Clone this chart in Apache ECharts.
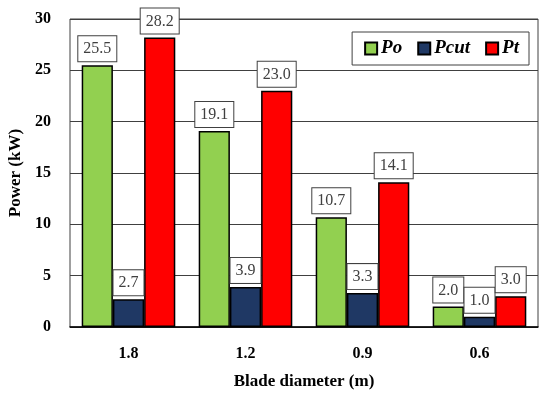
<!DOCTYPE html>
<html><head><meta charset="utf-8">
<script src="https://cdn.jsdelivr.net/npm/echarts@6/dist/echarts.min.js"></script>
<style>html,body{margin:0;padding:0;background:#fff}#c{width:550px;height:396px}</style>
</head><body><div id="c"></div>
<script>
const categories = ['1.8', '1.2', '0.9', '0.6'];
const Po = [25.5, 19.1, 10.7, 2.0];
const Pcut = [2.7, 3.9, 3.3, 1.0];
const Pt = [28.2, 23.0, 14.1, 3.0];
const seriesNames = ['Po', 'Pcut', 'Pt'];
const colors = ['#92D050', '#1F3864', '#FF0000'];
const yTicks = [0, 5, 10, 15, 20, 25, 30];

const font = '"Liberation Serif", "DejaVu Serif", serif';
const chart = echarts.init(document.getElementById('c'), null, {renderer: 'canvas'});
function mk(name, data, color) {
  return {
    name: name, type: 'bar', data: data, barGap: '0%', barCategoryGap: '20%',
    itemStyle: {color: color, borderColor: '#000', borderWidth: 1.5},
    label: {
      show: true, position: 'top', distance: 4,
      formatter: p => p.value.toFixed(1),
      fontFamily: font, fontSize: 16, color: '#404040',
      backgroundColor: '#fff', borderColor: '#404040', borderWidth: 1,
      padding: [5, 5, 4, 5]
    }
  };
}
chart.setOption({
  animation: false,
  grid: {left: 70, right: 12, top: 19, bottom: 69, show: true, borderColor: '#404040', borderWidth: 1,
         containLabel: false, outerBoundsMode: 'none'},
  legend: {
    data: seriesNames, right: 21, top: 32, orient: 'horizontal', icon: 'rect',
    itemWidth: 12, itemHeight: 12, itemGap: 15,
    borderColor: '#404040', borderWidth: 1, padding: [7, 10, 7, 12],
    backgroundColor: '#fff',
    textStyle: {fontFamily: font, fontStyle: 'italic', fontWeight: 'bold', fontSize: 19, color: '#000', padding: [0,0,0,-1]}
  },
  xAxis: {
    type: 'category', data: categories,
    axisLine: {lineStyle: {color: '#000', width: 1.5}},
    axisTick: {show: false},
    axisLabel: {fontFamily: font, fontWeight: 'bold', fontSize: 16, color: '#000', margin: 19},
    name: 'Blade diameter (m)', nameLocation: 'middle', nameGap: 46,
    nameTextStyle: {fontFamily: font, fontWeight: 'bold', fontSize: 17, color: '#000'}
  },
  yAxis: {
    type: 'value', min: yTicks[0], max: yTicks[yTicks.length - 1], interval: 5,
    axisLine: {show: false}, axisTick: {show: false},
    splitLine: {lineStyle: {color: '#404040', width: 1}},
    axisLabel: {fontFamily: font, fontWeight: 'bold', fontSize: 16, color: '#000', margin: 19},
    name: 'Power (kW)', nameLocation: 'middle', nameGap: 45, nameRotate: 90,
    nameTextStyle: {fontFamily: font, fontWeight: 'bold', fontSize: 17, color: '#000'}
  },
  series: [mk(seriesNames[0], Po, colors[0]), mk(seriesNames[1], Pcut, colors[1]), mk(seriesNames[2], Pt, colors[2])]
});
</script></body></html>
